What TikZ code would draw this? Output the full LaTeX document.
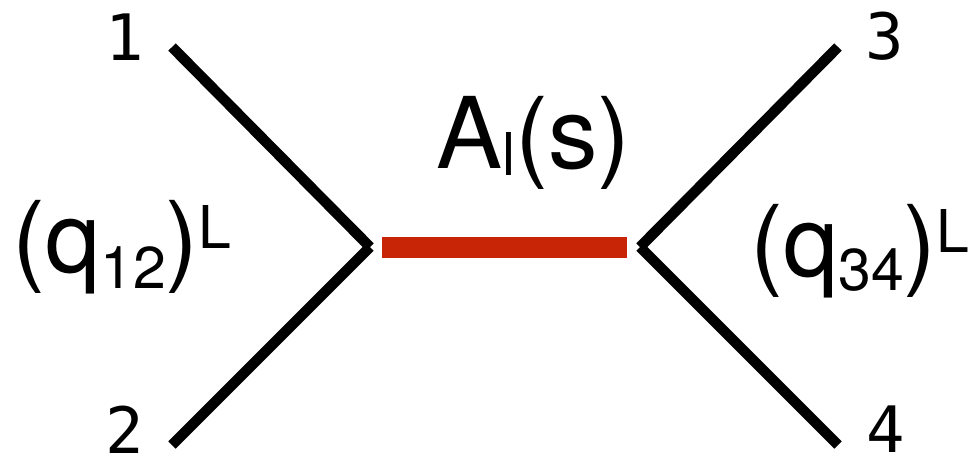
\documentclass[tikz,border=0pt]{standalone}
\usepackage{fontspec}
\setmainfont{TeX Gyre Heros}
\newfontfamily\digitfont{DejaVu Sans Mono}
\definecolor{barred}{HTML}{C72506}
\newcommand{\bigtxt}[1]{{\fontsize{99}{99}\selectfont #1}}
\newcommand{\subt}[2]{\raisebox{-#1pt}{\fontsize{59}{59}\selectfont #2}}
\newcommand{\supt}[1]{\raisebox{24pt}{\fontsize{59}{59}\selectfont #1}}
\begin{document}
\begin{tikzpicture}[x=1pt,y=-1pt,
  leg/.style={line width=10.5pt,black},
  prop/.style={line width=21pt,barred},
  num/.style={inner sep=0pt,font=\digitfont\fontsize{64}{64}\selectfont},
  lab/.style={inner sep=0pt,anchor=base west}]
\useasboundingbox (0,0) rectangle (979,459);
\coordinate (e1) at (172,47);
\coordinate (e2) at (172,445);
\coordinate (vl) at (370,247);
\coordinate (e3) at (838,47);
\coordinate (e4) at (838,445);
\coordinate (vr) at (640,247);
\coordinate (pl) at (382,247.5);
\coordinate (pr) at (627,247.5);
\draw[leg] (e1) -- (vl);
\draw[leg] (e2) -- (vl);
\draw[leg] (e3) -- (vr);
\draw[leg] (e4) -- (vr);
\draw[prop] (pl) -- (pr);
\node[num] (n1) at (125,37) {1};
\node[num] (n2) at (125,430) {2};
\node[num] (n3) at (885,36) {3};
\node[num] (n4) at (886,429) {4};
\node[lab] (q12) at (12,272) {\bigtxt{(q\subt{16}{12})\supt{L}}};
\node[lab] (q34) at (750,276) {\bigtxt{(q\subt{14}{34})\supt{L}}};
\node[lab] (al) at (436,168) {\bigtxt{A\subt{7}{l}(s)}};
\end{tikzpicture}
\end{document}
